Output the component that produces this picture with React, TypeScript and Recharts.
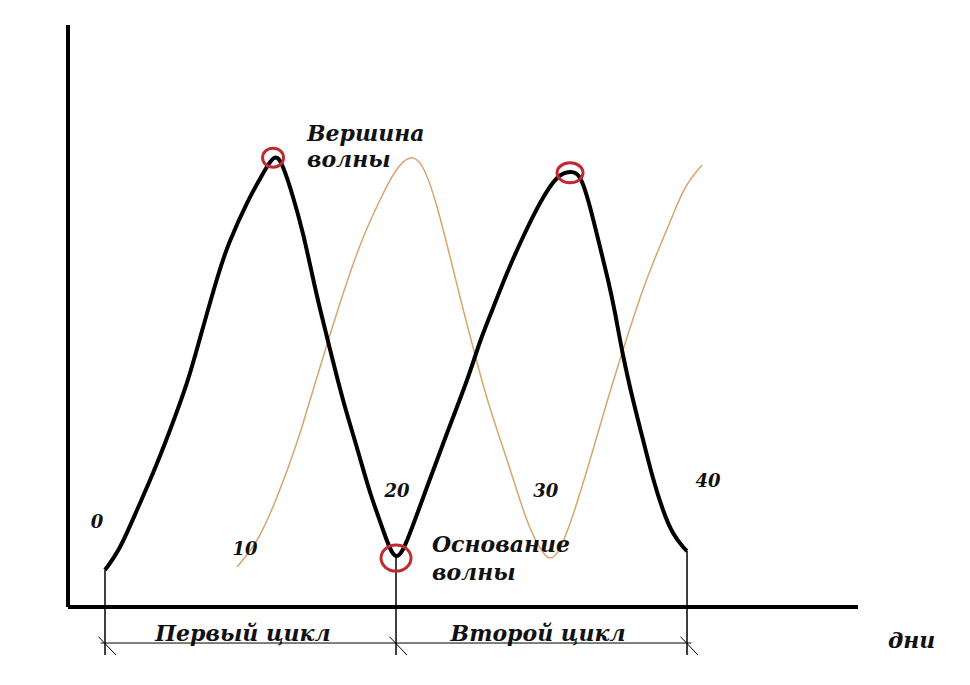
import React from "react";
import { LineChart, Line, XAxis, YAxis, ReferenceDot, ReferenceLine } from "recharts";

// days along the horizontal axis, wave level on the vertical axis (0..100)
const blackDays = [0, 1.03, 2.2, 3.3, 4.47, 5.64, 6.53, 7.7, 8.59, 9.76, 10.79, 11.62, 12.23, 12.92, 13.61, 14.23, 14.78, 15.46, 16.36, 17.32, 18.21, 19.11, 20, 20.96, 22.13, 23.51, 24.88, 25.77, 26.67, 27.63, 28.73, 29.9, 31.07, 31.96, 32.65, 33.33, 34.02, 34.57, 35.05, 35.6, 36.29, 36.98, 37.66, 38.35, 39.04, 39.73, 40];
const blackLevels = [6.36, 10.31, 16.67, 23.02, 30.41, 38.6, 46.2, 56.4, 62.9, 69.4, 74.2, 77.15, 75.6, 70.45, 64.09, 57.22, 51.2, 44.3, 35.57, 27.32, 19.76, 13.23, 8.76, 12.71, 20.62, 29.9, 39.0, 45.53, 51.37, 57.39, 63.57, 69.42, 73.71, 74.74, 73.71, 68.73, 61.86, 56.19, 50.52, 43.3, 35.57, 28.69, 22.16, 16.67, 12.71, 10.31, 9.62];

const orangeDays = [9.07, 10.45, 11.82, 13.2, 14.3, 15.46, 16.63, 17.73, 18.9, 19.93, 20.96, 21.86, 22.68, 23.51, 24.4, 25.43, 26.46, 27.63, 28.52, 29.21, 29.9, 30.58, 31.27, 32.16, 33.33, 34.5, 35.6, 36.77, 37.8, 38.83, 39.86, 41.03];
const orangeLevels = [6.87, 11.51, 18.9, 28.35, 37.29, 46.74, 55.84, 63.4, 69.93, 74.74, 77.15, 75.43, 69.93, 62.2, 53.26, 43.3, 34.19, 25.26, 18.38, 13.57, 10.14, 8.42, 10.14, 15.81, 25.26, 35.22, 44.16, 53.09, 59.97, 66.15, 71.99, 75.95];

const dayLabels = ["0", "10", "20", "30", "40"];
const cycleLabels = ["Первый цикл", "Второй цикл"];
const cycleBounds = [0, 20, 40];

const blackData = blackDays.map((d, i) => ({ d, v: blackLevels[i] }));
const orangeData = orangeDays.map((d, i) => ({ d, v: orangeLevels[i] }));

const X_MIN = -2.543;
const X_MAX = 51.75;

const FONT = "'DejaVu Serif', serif";
const RED = "#bf2a33";

const textShape = (txt: string, anchor: string, size: number) => (p: any) => (
  <text
    x={p.cx}
    y={p.cy}
    textAnchor={anchor}
    fontFamily={FONT}
    fontWeight="bold"
    fontStyle="italic"
    fontSize={size}
    fill="#111"
  >
    {txt}
  </text>
);

const ellipseShape = (rx: number, ry: number) => (p: any) => (
  <ellipse cx={p.cx} cy={p.cy} rx={rx} ry={ry} fill="none" stroke={RED} strokeWidth={3} />
);

const dayLabelPos = [
  { x: -0.55, y: 13.6 },
  { x: 9.62, y: 8.9 },
  { x: 20.07, y: 18.9 },
  { x: 30.3, y: 18.9 },
  { x: 41.44, y: 20.6 },
];

export default function App() {
  return (
    <LineChart
      width={954}
      height={669}
      margin={{ top: 17, right: 104, bottom: 70, left: 60 }}
      style={{ background: "#fff" }}
    >
      <XAxis type="number" dataKey="d" domain={[X_MIN, X_MAX]} allowDataOverflow hide />
      <YAxis type="number" dataKey="v" domain={[0, 100]} allowDataOverflow hide />

      {/* axes */}
      <ReferenceLine
        segment={[{ x: X_MIN, y: 100 }, { x: X_MIN, y: 0 }]}
        stroke="#000"
        strokeWidth={4}
        ifOverflow="visible"
      />
      <ReferenceLine
        segment={[{ x: X_MIN, y: 0 }, { x: X_MAX, y: 0 }]}
        stroke="#000"
        strokeWidth={4}
        ifOverflow="visible"
      />

      <Line
        data={orangeData}
        dataKey="v"
        type="natural"
        stroke="#d9a46e"
        strokeWidth={1.5}
        dot={false}
        isAnimationActive={false}
      />
      <Line
        data={blackData}
        dataKey="v"
        type="natural"
        stroke="#000"
        strokeWidth={4}
        dot={false}
        isAnimationActive={false}
      />

      {/* cycle brackets */}
      {cycleBounds.map((b, i) => (
        <ReferenceLine
          key={"v" + i}
          segment={[{ x: b, y: blackLevels[blackDays.indexOf(b)] }, { x: b, y: -8.25 }]}
          stroke="#000"
          strokeWidth={1.5}
          ifOverflow="visible"
        />
      ))}
      {cycleBounds.map((b, i) => (
        <ReferenceLine
          key={"t" + i}
          segment={[{ x: b - 0.45, y: -5.1 }, { x: b + 0.75, y: -8.25 }]}
          stroke="#000"
          strokeWidth={1}
          ifOverflow="visible"
        />
      ))}
      <ReferenceLine
        segment={[{ x: -0.3, y: -6.19 }, { x: 40.3, y: -6.19 }]}
        stroke="#000"
        strokeWidth={1}
        ifOverflow="visible"
      />

      {/* red markers */}
      <ReferenceDot x={11.55} y={77.2} r={10} shape={ellipseShape(10.5, 9.5)} ifOverflow="visible" />
      <ReferenceDot x={31.96} y={74.6} r={10} shape={ellipseShape(13, 10)} ifOverflow="visible" />
      <ReferenceDot x={20} y={8.4} r={10} shape={ellipseShape(15, 13)} ifOverflow="visible" />

      {/* day labels */}
      {dayLabels.map((t, i) => (
        <ReferenceDot
          key={"d" + i}
          x={dayLabelPos[i].x}
          y={dayLabelPos[i].y}
          r={1}
          shape={textShape(t, "middle", 18)}
          ifOverflow="visible"
        />
      ))}

      {/* annotations */}
      <ReferenceDot x={13.88} y={80.1} r={1} shape={textShape("Вершина", "start", 22)} ifOverflow="visible" />
      <ReferenceDot x={13.88} y={75.6} r={1} shape={textShape("волны", "start", 22)} ifOverflow="visible" />
      <ReferenceDot x={22.47} y={9.45} r={1} shape={textShape("Основание", "start", 22)} ifOverflow="visible" />
      <ReferenceDot x={22.47} y={4.64} r={1} shape={textShape("волны", "start", 22)} ifOverflow="visible" />
      <ReferenceDot x={9.48} y={-5.84} r={1} shape={textShape(cycleLabels[0], "middle", 22)} ifOverflow="visible" />
      <ReferenceDot x={29.76} y={-5.84} r={1} shape={textShape(cycleLabels[1], "middle", 22)} ifOverflow="visible" />
      <ReferenceDot x={53.81} y={-7.04} r={1} shape={textShape("дни", "start", 22)} ifOverflow="visible" />
    </LineChart>
  );
}
